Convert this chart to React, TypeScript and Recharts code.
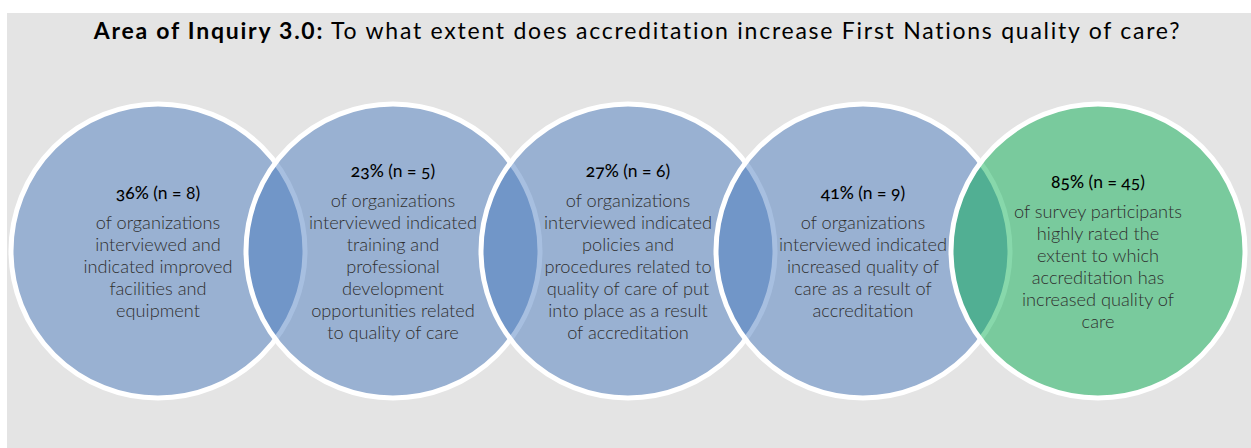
import React from "react";
import { ScatterChart, Scatter, XAxis, YAxis } from "recharts";

// one circle per finding, left to right
const positions = [1, 2, 3, 4, 5];
const percents = [36, 23, 27, 41, 85];
const counts = [8, 5, 6, 9, 45];
const sources = ["interview", "interview", "interview", "interview", "survey"];
const descriptions = [
  ["of organizations", "interviewed and", "indicated improved", "facilities and", "equipment"],
  [
    "of organizations",
    "interviewed indicated",
    "training and",
    "professional",
    "development",
    "opportunities related",
    "to quality of care",
  ],
  [
    "of organizations",
    "interviewed indicated",
    "policies and",
    "procedures related to",
    "quality of care of put",
    "into place as a result",
    "of accreditation",
  ],
  ["of organizations", "interviewed indicated", "increased quality of", "care as a result of", "accreditation"],
  [
    "of survey participants",
    "highly rated the",
    "extent to which",
    "accreditation has",
    "increased quality of",
    "care",
  ],
];

const TITLE_BOLD = "Area of Inquiry 3.0:";
const TITLE_REST = " To what extent does accreditation increase First Nations quality of care?";

const W = 1251;
const H = 448;
const RADIUS = 147;
const LINE = 22;
const HEAD_GAP = 30;
const FONT = "Lato, 'Open Sans', sans-serif";

const rows = positions.map((x, i) => ({
  x,
  y: 0.5,
  pct: percents[i],
  n: counts[i],
  lines: descriptions[i],
  source: sources[i],
}));
const interviewRows = rows.filter((r) => r.source === "interview");
const surveyRows = rows.filter((r) => r.source === "survey");

function Bubble(props: any) {
  const { cx, cy, payload, fill } = props;
  if (cx == null || cy == null) return null;
  const lines: string[] = payload.lines;
  const span = HEAD_GAP + (lines.length - 1) * LINE;
  const headY = cy - span / 2;
  return (
    <g>
      <circle cx={cx} cy={cy} r={RADIUS} fill={fill} fillOpacity={0.47} stroke="#ffffff" strokeWidth={5} />
      <text
        x={cx}
        y={headY}
        textAnchor="middle"
        dominantBaseline="central"
        fontFamily={FONT}
        fontSize={17.5}
        fill="#000000"
        style={{ fontVariantNumeric: "oldstyle-nums" }}
      >
        <tspan fontWeight={500}>{`${payload.pct}%`}</tspan>
        <tspan>{` (n = ${payload.n})`}</tspan>
      </text>
      {lines.map((l, j) => (
        <text
          key={j}
          x={cx}
          y={headY + HEAD_GAP + j * LINE}
          textAnchor="middle"
          dominantBaseline="central"
          fontFamily={FONT}
          fontWeight={300}
          fontSize={18.2}
          fill="#2f2f2f"
        >
          {l}
        </text>
      ))}
    </g>
  );
}

export default function App() {
  return (
    <div style={{ position: "absolute", left: 0, top: 0, width: W, height: H, background: "#ffffff" }}>
      <div style={{ position: "absolute", left: 7, top: 13, right: 0, bottom: 0, background: "#e4e4e4" }} />
      <div
        style={{
          position: "absolute",
          left: 12,
          top: 15,
          width: W,
          textAlign: "center",
          fontFamily: FONT,
          fontSize: 23,
          letterSpacing: 1.75,
          color: "#000000",
          lineHeight: "30px",
          whiteSpace: "nowrap",
        }}
      >
        <b>{TITLE_BOLD}</b>
        {TITLE_REST}
      </div>
      <div style={{ position: "absolute", left: 0, top: 0 }}>
        <ScatterChart width={W} height={H} margin={{ top: 101, right: 153, bottom: 47, left: 158 }}>
          <XAxis type="number" dataKey="x" domain={[1, 5]} hide />
          <YAxis type="number" dataKey="y" domain={[0, 1]} hide />
          <Scatter data={interviewRows} fill="#4478be" shape={Bubble} isAnimationActive={false} />
          <Scatter data={surveyRows} fill="#00ac4c" shape={Bubble} isAnimationActive={false} />
        </ScatterChart>
      </div>
    </div>
  );
}
